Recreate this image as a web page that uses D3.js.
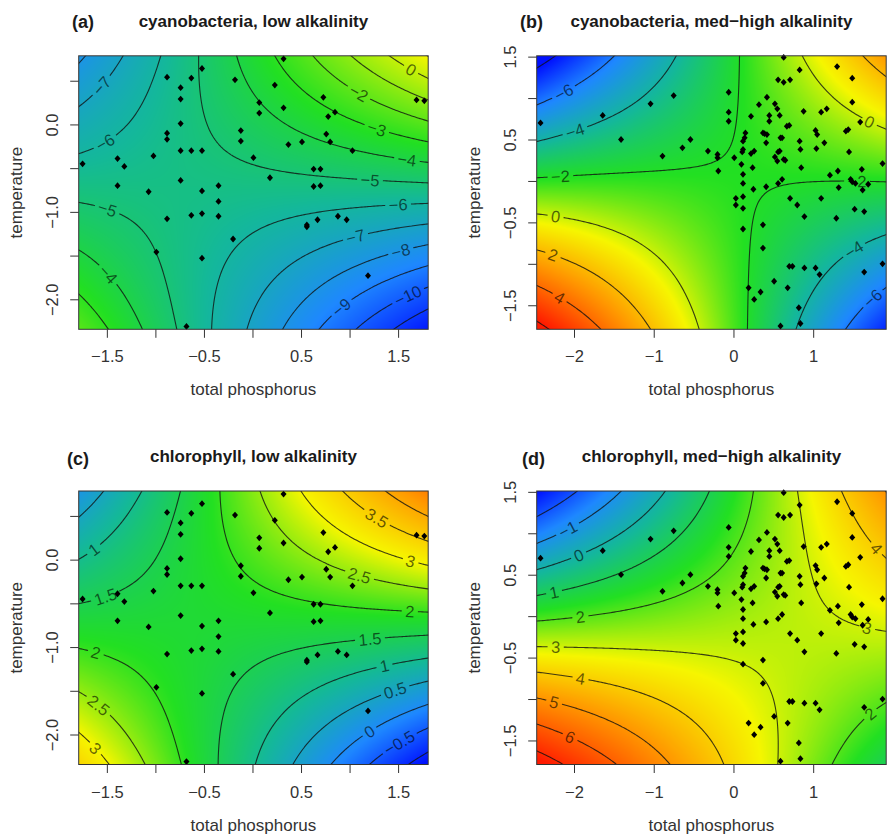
<!DOCTYPE html>
<html>
<head>
<meta charset="utf-8">
<script src="https://cdn.jsdelivr.net/npm/d3@7"></script>
<style>
  body { margin: 0; background: #fff; }
  svg text { font-family: "Liberation Sans", Arial, Helvetica, sans-serif; }
</style>
</head>
<body>
<svg id="chart" width="890" height="838"></svg>
<script>
// ---- scatter points (total phosphorus, temperature) ----
const lowPoints = [
  [-1.75,-0.45],[-1.39,-0.39],[-1.32,-0.48],[-1.39,-0.70],[-1.02,-0.36],[-1.07,-0.77],[-0.99,-1.46],
  [-0.88,0.54],[-0.88,-0.10],[-0.88,-0.17],[-0.88,-1.08],[-0.74,0.42],[-0.74,0.29],[-0.74,0.01],
  [-0.74,-0.30],[-0.74,-0.64],[-0.63,0.53],[-0.63,-0.30],[-0.63,-1.04],[-0.52,0.64],[-0.52,-0.30],
  [-0.52,-0.76],[-0.52,-1.02],[-0.52,-1.53],[-0.68,-2.31],[-0.35,-0.70],[-0.35,-0.88],[-0.35,-1.05],
  [-0.20,-1.31],[-0.18,0.51],[-0.12,-0.07],[-0.12,-0.19],[0.01,-0.38],[0.07,0.25],[0.07,0.13],
  [0.18,-0.61],[0.23,0.45],[0.32,0.75],[0.32,0.19],[0.37,-0.23],[0.51,-0.20],[0.56,-1.15],[0.56,-1.17],
  [0.63,-0.51],[0.70,-0.51],[0.63,-0.71],[0.70,-0.70],[0.67,-1.09],[0.73,0.31],[0.78,0.09],[0.76,-0.11],
  [0.80,-0.20],[0.85,0.14],[0.88,-1.05],[0.97,-1.09],[1.03,-0.30],[1.19,-1.73],[1.69,0.28],[1.77,0.27]
];
const highPoints = [
  [-2.42,0.70],[-1.64,0.79],[-1.41,0.50],[-1.04,0.93],[-0.75,1.03],[-0.89,0.30],[-0.64,0.40],[-0.54,0.50],
  [-0.32,0.36],[-0.20,0.32],[-0.20,0.28],[-0.19,0.12],[-0.06,1.07],[-0.06,0.83],[-0.06,0.72],[0.01,0.28],
  [0.03,-0.21],[0.03,-0.29],[0.12,-0.33],[0.12,-0.19],[0.12,-0.03],[0.12,0.08],[0.10,0.20],[0.11,0.35],
  [0.12,0.38],[0.12,0.48],[0.14,0.52],[0.15,0.58],[0.12,-0.58],[0.22,0.78],[0.22,0.33],[0.26,0.36],
  [0.24,0.16],[0.25,-0.10],[0.32,0.92],[0.37,0.58],[0.39,0.57],[0.42,1.01],[0.45,0.79],[0.45,0.72],
  [0.42,0.56],[0.41,0.46],[0.41,-0.07],[0.52,0.93],[0.55,0.87],[0.52,0.29],[0.55,0.24],[0.56,0.35],
  [0.58,0.36],[0.56,-0.03],[0.56,1.22],[0.63,1.19],[0.71,1.22],[0.63,1.49],[0.58,0.79],[0.59,0.52],
  [0.61,0.52],[0.67,0.66],[0.70,0.67],[0.63,0.26],[0.65,0.25],[0.61,0.02],[0.71,-0.21],[0.37,-0.53],
  [0.37,-0.81],[0.70,-1.03],[0.74,-1.03],[0.83,1.34],[0.88,0.84],[0.83,0.48],[0.84,0.38],[0.85,0.16],
  [0.80,-0.29],[0.89,-0.43],[0.89,-1.05],[1.03,0.61],[1.05,0.56],[1.04,0.39],[1.10,0.83],[1.17,0.87],
  [1.14,0.46],[1.10,-0.21],[1.03,-1.05],[1.08,-1.13],[1.21,0.07],[1.30,1.38],[1.49,1.24],[1.49,0.95],
  [1.41,0.60],[1.44,0.62],[1.45,0.35],[1.31,0.12],[1.32,-0.08],[1.29,-0.45],[1.49,-0.01],[1.52,-0.34],
  [1.53,-0.03],[1.61,0.14],[1.62,-0.11],[1.64,-0.37],[1.69,-0.04],[1.64,-1.10],[1.87,0.21],[1.87,-1.00],
  [0.19,-1.29],[0.26,-1.43],[0.34,-1.34],[0.51,-1.21],[0.68,-1.29],[0.59,-1.75],[0.82,-1.53],[0.84,-1.72],
  [1.59,0.71],[1.47,0.02]
];

// ---- surface readings: [total phosphorus, temperature, value] ----
const cyanoLowIso = [
  [-1.79,0.18,-7],[-1.56,0.45,-7],[-1.40,0.64,-7],[-1.35,0.785,-7],
  [-1.79,-0.29,-6],[-1.52,-0.20,-6],[-1.37,-0.12,-6],[-1.18,0.05,-6],[-1.06,0.28,-6],[-0.97,0.58,-6],[-0.96,0.785,-6],
  [-0.55,0.785,-5],[-0.53,0.43,-5],[-0.44,0.05,-5],[-0.30,-0.18,-5],[-0.03,-0.41,-5],[0.38,-0.56,-5],[0.93,-0.63,-5],[1.21,-0.655,-5],[1.81,-0.65,-5],
  [-0.15,0.785,-4],[-0.06,0.43,-4],[0.11,0.13,-4],[0.38,-0.10,-4],[0.80,-0.29,-4],[1.28,-0.37,-4],[1.59,-0.41,-4],[1.81,-0.43,-4],
  [0.25,0.785,-3],[0.38,0.54,-3],[0.59,0.32,-3],[0.93,0.09,-3],[1.28,-0.05,-3],[1.81,-0.18,-3],
  [0.64,0.785,-2],[0.86,0.51,-2],[1.09,0.35,-2],[1.45,0.16,-2],[1.81,0.09,-2],
  [1.04,0.785,-1],[1.62,0.39,-1],[1.81,0.30,-1],
  [1.40,0.785,0],[1.62,0.60,0],[1.81,0.52,0],
  [-0.41,-2.343,-6],[-0.37,-1.86,-6],[-0.27,-1.47,-6],[-0.03,-1.17,-6],[0.38,-1.02,-6],[0.93,-0.95,-6],[1.28,-0.93,-6],[1.81,-0.895,-6],
  [-0.03,-2.343,-7],[0.11,-1.93,-7],[0.38,-1.55,-7],[0.80,-1.34,-7],[1.07,-1.30,-7],[1.45,-1.24,-7],[1.81,-1.15,-7],
  [0.33,-2.343,-8],[0.52,-1.93,-8],[0.86,-1.66,-8],[1.21,-1.53,-8],[1.53,-1.46,-8],[1.81,-1.38,-8],
  [0.71,-2.343,-9],[0.92,-2.10,-9],[1.21,-1.86,-9],[1.62,-1.70,-9],[1.81,-1.65,-9],
  [1.07,-2.343,-10],[1.35,-2.10,-10],[1.59,-1.93,-10],[1.81,-1.86,-10],
  [1.43,-2.343,-11],[1.81,-2.12,-11],
  [-1.79,-0.93,-5],[-1.49,-0.95,-5],[-1.30,-1.00,-5],[-1.09,-1.17,-5],[-0.92,-1.47,-5],[-0.82,-1.86,-5],[-0.78,-2.343,-5],
  [-1.75,-1.46,-4],[-1.61,-1.59,-4],[-1.47,-1.70,-4],[-1.35,-1.86,-4],[-1.22,-2.08,-4],[-1.13,-2.343,-4],
  [-1.79,-1.97,-3],[-1.61,-2.14,-3],[-1.49,-2.343,-3],
  [-1.79,0.785,-8.1],[1.81,0.785,1.05],[-1.79,-2.343,-2.25],[1.81,-2.343,-11.9]
];
const cyanoHighIso = [
  [-2.468,1.33,-8],[-2.25,1.51,-8],
  [-2.468,0.97,-6],[-2.13,1.07,-6],[-1.92,1.17,-6],[-1.50,1.51,-6],
  [-2.468,0.48,-4],[-1.98,0.58,-4],[-1.79,0.68,-4],[-1.25,0.91,-4],[-0.91,1.15,-4],[-0.70,1.51,-4],
  [-2.468,0.03,-2],[-2.17,0.04,-2],[-1.83,0.07,-2],[-1.25,0.09,-2],[-0.62,0.14,-2],[-0.24,0.26,-2],[-0.08,0.50,-2],[0.01,0.95,-2],[0.06,1.51,-2],
  [0.15,-1.79,-2],[0.17,-1.07,-2],[0.21,-0.54,-2],[0.34,-0.22,-2],[0.63,-0.06,-2],[1.05,-0.02,-2],[1.55,-0.02,-2],[1.916,0.0,-2],
  [0.88,1.51,0],[1.09,1.19,0],[1.34,0.91,0],[1.51,0.76,0],[1.70,0.70,0],[1.916,0.68,0],
  [1.68,1.51,2],[1.916,1.27,2],
  [-2.468,-0.41,0],[-2.23,-0.42,0],[-2.04,-0.44,0],[-1.46,-0.54,0],[-0.91,-0.87,0],[-0.66,-1.27,0],[-0.50,-1.79,0],
  [-2.468,-0.88,2],[-2.27,-0.91,2],[-2.04,-0.99,2],[-1.58,-1.19,2],[-1.25,-1.51,2],[-1.04,-1.79,2],
  [-2.468,-1.27,4],[-2.17,-1.39,4],[-1.92,-1.55,4],[-1.67,-1.79,4],
  [-2.42,-1.67,6],[-2.33,-1.79,6],
  [0.80,-1.79,-4],[0.97,-1.35,-4],[1.26,-1.03,-4],[1.51,-0.83,-4],[1.916,-0.62,-4],
  [1.43,-1.79,-6],[1.74,-1.41,-6],[1.916,-1.27,-6],
  [-2.468,1.51,-8.6],[1.916,1.51,3.0],[-2.468,-1.79,6.4],[1.916,-1.79,-7.5]
];
const chlLowIso = [
  [-1.79,0.44,0.5],[-1.58,0.74,0.5],[-1.55,0.785,0.5],
  [-1.79,0.04,1],[-1.63,0.11,1],[-1.49,0.21,1],[-1.30,0.44,1],[-1.13,0.76,1],
  [-1.79,-0.50,1.5],[-1.51,-0.44,1.5],[-1.30,-0.34,1.5],[-1.03,-0.13,1.5],[-0.85,0.17,1.5],[-0.77,0.51,1.5],[-0.73,0.76,1.5],
  [-0.33,0.785,2],[-0.29,0.36,2],[-0.13,-0.10,2],[0.11,-0.32,2],[0.59,-0.48,2],[1.28,-0.59,2],[1.62,-0.61,2],[1.81,-0.61,2],
  [0.07,0.785,2.5],[0.25,0.36,2.5],[0.52,0.06,2.5],[1.10,-0.19,2.5],[1.81,-0.32,2.5],
  [0.49,0.785,3],[0.80,0.44,3],[1.28,0.17,3],[1.62,-0.05,3],[1.81,-0.07,3],
  [0.90,0.785,3.5],[1.26,0.44,3.5],[1.48,0.30,3.5],[1.81,0.21,3.5],
  [1.31,0.785,4],[1.81,0.55,4],
  [1.81,-0.86,1.5],[1.21,-0.91,1.5],[0.93,-0.93,1.5],[0.38,-1.05,1.5],[-0.03,-1.31,1.5],[-0.27,-1.77,1.5],[-0.35,-2.343,1.5],
  [1.81,-1.14,1],[1.36,-1.22,1],[0.79,-1.31,1],[0.38,-1.54,1],[0.11,-1.92,1],[0.03,-2.343,1],
  [1.81,-1.38,0.5],[1.47,-1.50,0.5],[1.17,-1.62,0.5],[0.79,-1.85,0.5],[0.45,-2.343,0.5],
  [1.81,-1.66,0],[1.19,-1.94,0],[0.93,-2.20,0],[0.80,-2.343,0],
  [1.81,-1.90,-0.5],[1.52,-2.11,-0.5],[1.22,-2.343,-0.5],
  [1.60,-2.343,-1],[1.81,-2.19,-1],
  [-1.79,-1.03,2],[-1.61,-1.05,2],[-1.44,-1.07,2],[-1.13,-1.24,2],[-0.89,-1.62,2],[-0.73,-2.343,2],
  [-1.79,-1.54,2.5],[-1.58,-1.66,2.5],[-1.37,-1.77,2.5],[-1.20,-2.08,2.5],[-1.09,-2.343,2.5],
  [-1.79,-2.0,3],[-1.59,-2.13,3],[-1.47,-2.343,3],
  [-1.79,0.785,0.25],[1.81,0.785,4.4],[-1.79,-2.343,3.3],[1.81,-2.343,-1.2]
];
const chlHighIso = [
  [-2.42,1.22,-2],[-1.96,1.51,-2],
  [-2.468,0.89,-1],[-2.08,1.05,-1],[-1.87,1.16,-1],[-1.41,1.51,-1],
  [-2.468,0.59,0],[-1.94,0.73,0],[-1.75,0.81,0],[-1.25,1.01,0],[-0.87,1.51,0],
  [-2.468,0.23,1],[-2.25,0.29,1],[-2.04,0.35,1],[-1.25,0.55,1],[-0.62,0.87,1],[-0.33,1.51,1],
  [-2.468,-0.05,2],[-1.92,-0.01,2],[-1.67,0.03,2],[-0.83,0.19,2],[-0.29,0.47,2],[0.01,0.83,2],[0.21,1.51,2],
  [0.80,1.51,3],[0.84,0.75,3],[1.05,0.23,3],[1.38,-0.05,3],[1.68,-0.13,3],[1.916,-0.15,3],
  [1.32,1.51,4],[1.51,1.16,4],[1.64,0.89,4],[1.74,0.77,4],[1.916,0.72,4],
  [-2.468,-0.37,3],[-2.23,-0.37,3],[-2.04,-0.37,3],[-1.25,-0.39,3],[-0.62,-0.43,3],[-0.27,-0.44,3],[0.0,-0.52,3],[0.27,-0.68,3],[0.35,-0.84,3],[0.42,-1.12,3],[0.52,-1.60,3],[0.58,-1.79,3],
  [-2.468,-0.68,4],[-1.92,-0.76,4],[-1.67,-0.78,4],[-1.04,-0.94,4],[-0.54,-1.26,4],[-0.24,-1.79,4],
  [-2.468,-1.0,5],[-2.25,-1.04,5],[-2.04,-1.08,5],[-1.25,-1.34,5],[-0.79,-1.79,5],
  [-2.468,-1.32,6],[-2.04,-1.44,6],[-1.79,-1.54,6],[-1.41,-1.79,6],
  [-2.468,-1.62,7],[-2.08,-1.79,7],
  [1.26,-1.79,2],[1.47,-1.38,2],[1.70,-1.16,2],[1.916,-1.02,2],
  [-2.468,1.51,-2.9],[1.916,1.51,4.8],[-2.468,-1.79,7.3],[1.916,-1.79,1.1]
];

// ---- contour levels and where their labels sit ----
const cyanoLowLevels = [-12,-11,-10,-9,-8,-7,-6,-5,-4,-3,-2,-1,0,1];
const cyanoHighLevels = [-8,-6,-4,-2,0,2,4,6];
const chlLowLevels = [-1,-0.5,0,0.5,1,1.5,2,2.5,3,3.5,4];
const chlHighLevels = [-3,-2,-1,0,1,2,3,4,5,6,7];

const cyanoLowLabels = [[-1.56,0.45,-7],[-1.52,-0.20,-6],[1.21,-0.655,-5],[1.59,-0.41,-4],[1.28,-0.05,-3],[1.09,0.35,-2],[1.62,0.60,0],
  [1.50,-0.92,-6],[1.07,-1.32,-7],[1.53,-1.46,-8],[0.92,-2.10,-9],[1.59,-1.93,-10],[-1.49,-0.95,-5],[-1.47,-1.70,-4]];
const cyanoHighLabels = [[-2.13,1.07,-6],[-1.98,0.58,-4],[-2.17,0.04,-2],[1.55,-0.02,-2],[1.70,0.70,0],[-2.23,-0.42,0],
  [-2.27,-0.91,2],[-2.17,-1.39,4],[1.51,-0.83,-4],[1.74,-1.41,-6]];
const chlLowLabels = [[-1.63,0.11,1],[-1.51,-0.44,1.5],[1.62,-0.61,2],[1.10,-0.19,2.5],[1.62,-0.05,3],[1.26,0.44,3.5],
  [1.21,-0.91,1.5],[1.36,-1.22,1],[1.47,-1.50,0.5],[1.19,-1.94,0],[1.52,-2.11,-0.5],[-1.61,-1.05,2],[-1.58,-1.66,2.5],[-1.59,-2.13,3]];
const chlHighLabels = [[-2.08,1.05,-1],[-1.94,0.73,0],[-2.25,0.29,1],[-1.92,-0.01,2],[-2.23,-0.37,3],[-1.92,-0.76,4],
  [-2.25,-1.04,5],[-2.04,-1.44,6],[1.68,-0.13,3],[1.74,0.77,4],[1.70,-1.16,2]];

// ---- axes ----
const lowTPRange = [-1.79, 1.81], lowTempRange = [-2.343, 0.785];
const highTPRange = [-2.468, 1.916], highTempRange = [-1.79, 1.51];
const lowTPTicks = [-1.5,-1,-0.5,0,0.5,1,1.5], lowTPLabels = [-1.5,-0.5,0.5,1.5];
const lowTempTicks = [0.5,0,-0.5,-1,-1.5,-2], lowTempLabels = [0,-1,-2];
const highTPTicks = [-2,-1,0,1], highTPLabels = [-2,-1,0,1];
const highTempTicks = [1.5,1,0.5,0,-0.5,-1,-1.5], highTempLabels = [1.5,0.5,-0.5,-1.5];

// ---- colours: one ramp, anchored per panel ----
const palette = ["#0010ff", "#1e88ff", "#14b89a", "#22e022", "#f6f600", "#ff9a00", "#ff1a00"];
const cyanoLowStops = [-12.2, -8.8, -5.8, -3.2, 1.0, 4, 7];
const cyanoHighStops = [-8.0, -5.8, -3.8, -1.9, 0.5, 2.8, 6.0];
const chlLowStops = [-1.2, -0.1, 0.9, 1.9, 3.0, 4.2, 5.6];
const chlHighStops = [-2.9, -1.3, 0.2, 1.6, 3.3, 4.9, 7.3];

const panels = [
  { tag: "(a)", title: "cyanobacteria, low alkalinity", iso: cyanoLowIso, levels: cyanoLowLevels, labels: cyanoLowLabels,
    points: lowPoints, xr: lowTPRange, yr: lowTempRange, xt: lowTPTicks, xl: lowTPLabels, yt: lowTempTicks, yl: lowTempLabels,
    xf: ".1f", stops: cyanoLowStops, col: 0, row: 0, tagX: 72 },
  { tag: "(b)", title: "cyanobacteria, med\u2212high alkalinity", iso: cyanoHighIso, levels: cyanoHighLevels, labels: cyanoHighLabels,
    points: highPoints, xr: highTPRange, yr: highTempRange, xt: highTPTicks, xl: highTPLabels, yt: highTempTicks, yl: highTempLabels,
    xf: "d", stops: cyanoHighStops, col: 1, row: 0, tagX: 520 },
  { tag: "(c)", title: "chlorophyll, low alkalinity", iso: chlLowIso, levels: chlLowLevels, labels: chlLowLabels,
    points: lowPoints, xr: lowTPRange, yr: lowTempRange, xt: lowTPTicks, xl: lowTPLabels, yt: lowTempTicks, yl: lowTempLabels,
    xf: ".1f", stops: chlLowStops, col: 0, row: 1, tagX: 67 },
  { tag: "(d)", title: "chlorophyll, med\u2212high alkalinity", iso: chlHighIso, levels: chlHighLevels, labels: chlHighLabels,
    points: highPoints, xr: highTPRange, yr: highTempRange, xt: highTPTicks, xl: highTPLabels, yt: highTempTicks, yl: highTempLabels,
    xf: "d", stops: chlHighStops, col: 1, row: 1, tagX: 522 }
];

const lefts = [78.7, 536.7], tops = [55.8, 491];
const tagY = [27.5, 465], titleY = [26.5, 461.7];
const W = 349.5, H = 273.5;

// least-squares cubic surface through the readings
function fitSurface(readings, xr, yr) {
  const cx = (xr[0] + xr[1]) / 2, hx = (xr[1] - xr[0]) / 2;
  const cy = (yr[0] + yr[1]) / 2, hy = (yr[1] - yr[0]) / 2;
  const basis = (x, y) => {
    const u = (x - cx) / hx, v = (y - cy) / hy;
    return [1, u, v, u * u, u * v, v * v, u * u * u, u * u * v, u * v * v, v * v * v];
  };
  const n = 10;
  const A = Array.from({ length: n }, () => new Array(n).fill(0));
  const b = new Array(n).fill(0);
  readings.forEach(([x, y, z]) => {
    const p = basis(x, y);
    for (let i = 0; i < n; i++) {
      b[i] += p[i] * z;
      for (let j = 0; j < n; j++) A[i][j] += p[i] * p[j];
    }
  });
  for (let i = 0; i < n; i++) A[i][i] += 1e-3;
  for (let k = 0; k < n; k++) {
    let piv = k;
    for (let i = k + 1; i < n; i++) if (Math.abs(A[i][k]) > Math.abs(A[piv][k])) piv = i;
    [A[k], A[piv]] = [A[piv], A[k]];
    [b[k], b[piv]] = [b[piv], b[k]];
    for (let i = k + 1; i < n; i++) {
      const f = A[i][k] / A[k][k];
      for (let j = k; j < n; j++) A[i][j] -= f * A[k][j];
      b[i] -= f * b[k];
    }
  }
  const c = new Array(n).fill(0);
  for (let i = n - 1; i >= 0; i--) {
    let s = b[i];
    for (let j = i + 1; j < n; j++) s -= A[i][j] * c[j];
    c[i] = s / A[i][i];
  }
  return (x, y) => {
    const p = basis(x, y);
    let s = 0;
    for (let i = 0; i < n; i++) s += p[i] * c[i];
    return s;
  };
}

const svg = d3.select("#chart");
const defs = svg.append("defs");
const levelFmt = d => (d < 0 ? "\u2212" : "") + Math.abs(d);

panels.forEach((p, k) => {
  const left = lefts[p.col], top = tops[p.row];
  const xs = d3.scaleLinear().domain(p.xr).range([0, W]);
  const ys = d3.scaleLinear().domain(p.yr).range([H, 0]);
  const surf = fitSurface(p.iso, p.xr, p.yr);
  const color = d3.scaleLinear().domain(p.stops).range(palette).clamp(true);

  const g = svg.append("g").attr("transform", `translate(${left},${top})`);

  defs.append("clipPath").attr("id", "clip" + k)
    .append("rect").attr("width", W).attr("height", H);

  // raster of the fitted surface
  const cw = Math.ceil(W), ch = Math.ceil(H);
  const vals = new Float64Array(cw * ch);
  for (let j = 0; j < ch; j++)
    for (let i = 0; i < cw; i++)
      vals[j * cw + i] = surf(xs.invert(i + 0.5), ys.invert(j + 0.5));
  const [vmin, vmax] = d3.extent(vals);
  const lut = d3.range(1024).map(q => d3.rgb(color(vmin + (vmax - vmin) * q / 1023)));
  const canvas = document.createElement("canvas");
  canvas.width = cw; canvas.height = ch;
  const ctx = canvas.getContext("2d");
  const img = ctx.createImageData(cw, ch);
  for (let q = 0; q < vals.length; q++) {
    const c = lut[Math.round((vals[q] - vmin) / (vmax - vmin) * 1023)];
    img.data[q * 4] = c.r; img.data[q * 4 + 1] = c.g; img.data[q * 4 + 2] = c.b; img.data[q * 4 + 3] = 255;
  }
  ctx.putImageData(img, 0, 0);
  g.append("image")
    .attr("width", W).attr("height", H)
    .attr("preserveAspectRatio", "none")
    .attr("clip-path", `url(#clip${k})`)
    .attr("href", canvas.toDataURL());

  // contour lines on a grid a little larger than the plot, clipped to it
  const nx = 220, ny = 175, padF = 0.06;
  const gx0 = p.xr[0] - padF * (p.xr[1] - p.xr[0]), gx1 = p.xr[1] + padF * (p.xr[1] - p.xr[0]);
  const gy0 = p.yr[0] - padF * (p.yr[1] - p.yr[0]), gy1 = p.yr[1] + padF * (p.yr[1] - p.yr[0]);
  const sx = (gx1 - gx0) / (nx - 1), sy = (gy1 - gy0) / (ny - 1);
  const grid = new Float64Array(nx * ny);
  for (let j = 0; j < ny; j++)
    for (let i = 0; i < nx; i++)
      grid[j * nx + i] = surf(gx0 + i * sx, gy1 - j * sy);
  const contours = d3.contours().size([nx, ny]).thresholds(p.levels)(grid);
  const proj = d3.geoTransform({
    point(x, y) { this.stream.point(xs(gx0 + (x - 0.5) * sx), ys(gy1 - (y - 0.5) * sy)); }
  });
  const path = d3.geoPath(proj);

  const mask = defs.append("mask").attr("id", "mask" + k)
    .attr("maskUnits", "userSpaceOnUse")
    .attr("x", -50).attr("y", -50).attr("width", W + 100).attr("height", H + 100);
  mask.append("rect").attr("x", -50).attr("y", -50).attr("width", W + 100).attr("height", H + 100).attr("fill", "#fff");

  const clipG = g.append("g").attr("clip-path", `url(#clip${k})`);
  clipG.append("g")
    .attr("mask", `url(#mask${k})`)
    .selectAll("path")
    .data(contours)
    .join("path")
    .attr("d", path)
    .attr("fill", "none")
    .attr("stroke", "#111")
    .attr("stroke-opacity", 0.8)
    .attr("stroke-width", 1.1);

  // contour labels, snapped onto their line and turned along it
  const F = (px, py) => surf(xs.invert(px), ys.invert(py));
  const fs = 16.5;
  p.labels.forEach(([lx, ly, lv]) => {
    let px = xs(lx), py = ys(ly), gx = 0, gy = 0;
    for (let it = 0; it < 10; it++) {
      const v = F(px, py) - lv;
      gx = F(px + 0.5, py) - F(px - 0.5, py);
      gy = F(px, py + 0.5) - F(px, py - 0.5);
      const g2 = gx * gx + gy * gy;
      if (g2 === 0) break;
      let dx = v * gx / g2, dy = v * gy / g2;
      const m = Math.hypot(dx, dy);
      if (m > 6) { dx *= 6 / m; dy *= 6 / m; }
      px -= dx; py -= dy;
    }
    let ang = Math.atan2(gx, -gy) * 180 / Math.PI;
    if (ang > 90) ang -= 180;
    if (ang < -90) ang += 180;
    const tr = `translate(${px},${py}) rotate(${ang})`;
    const t = clipG.append("text")
      .attr("transform", tr)
      .attr("text-anchor", "middle")
      .attr("dy", "0.36em")
      .attr("font-size", fs)
      .attr("fill", "#000")
      .attr("fill-opacity", 0.6)
      .text(levelFmt(lv));
    const tw = t.node().getComputedTextLength();
    mask.append("rect")
      .attr("transform", tr)
      .attr("x", -tw / 2 - 3.5).attr("y", -fs * 0.42)
      .attr("width", tw + 7).attr("height", fs * 0.84)
      .attr("fill", "#000");
  });

  // observations
  g.append("g")
    .selectAll("path")
    .data(p.points)
    .join("path")
    .attr("transform", d => `translate(${xs(d[0])},${ys(d[1])})`)
    .attr("d", "M0,-3.4L3,0L0,3.4L-3,0Z")
    .attr("fill", "#000");

  // frame
  g.append("rect")
    .attr("width", W).attr("height", H)
    .attr("fill", "none").attr("stroke", "#333").attr("stroke-width", 1);

  // axes
  const xFmt = d3.format(p.xf), yFmt = d3.format(".1f");
  g.append("g")
    .attr("transform", `translate(0,${H})`)
    .attr("color", "#333")
    .call(d3.axisBottom(xs).tickValues(p.xt).tickSize(8.5).tickPadding(12.8)
      .tickFormat(d => p.xl.includes(d) ? xFmt(d) : ""))
    .call(a => {
      a.select(".domain").remove();
      a.selectAll(".tick text").attr("font-size", 16.5).attr("font-family", null).attr("fill", "#333");
    });
  g.append("g")
    .attr("color", "#333")
    .call(d3.axisLeft(ys).tickValues(p.yt).tickSize(8.5)
      .tickFormat(d => p.yl.includes(d) ? yFmt(d) : ""))
    .call(a => {
      a.select(".domain").remove();
      a.selectAll(".tick text")
        .attr("transform", "rotate(-90)")
        .attr("x", 0).attr("y", -20.5).attr("dy", 0)
        .attr("text-anchor", "middle")
        .attr("font-size", 16.5).attr("font-family", null).attr("fill", "#333");
    });

  g.append("text")
    .attr("x", W / 2).attr("y", H + 66)
    .attr("text-anchor", "middle")
    .attr("font-size", 17).attr("fill", "#333")
    .text("total phosphorus");
  g.append("text")
    .attr("transform", `translate(-57,${H / 2}) rotate(-90)`)
    .attr("text-anchor", "middle")
    .attr("font-size", 17).attr("fill", "#333")
    .text("temperature");

  // titles
  svg.append("text")
    .attr("x", left + W / 2).attr("y", titleY[p.row])
    .attr("text-anchor", "middle")
    .attr("font-size", 17).attr("font-weight", "bold").attr("fill", "#1a1a1a")
    .text(p.title);
  svg.append("text")
    .attr("x", p.tagX).attr("y", tagY[p.row])
    .attr("font-size", 18).attr("font-weight", "bold").attr("fill", "#1a1a1a")
    .text(p.tag);
});
</script>
</body>
</html>
